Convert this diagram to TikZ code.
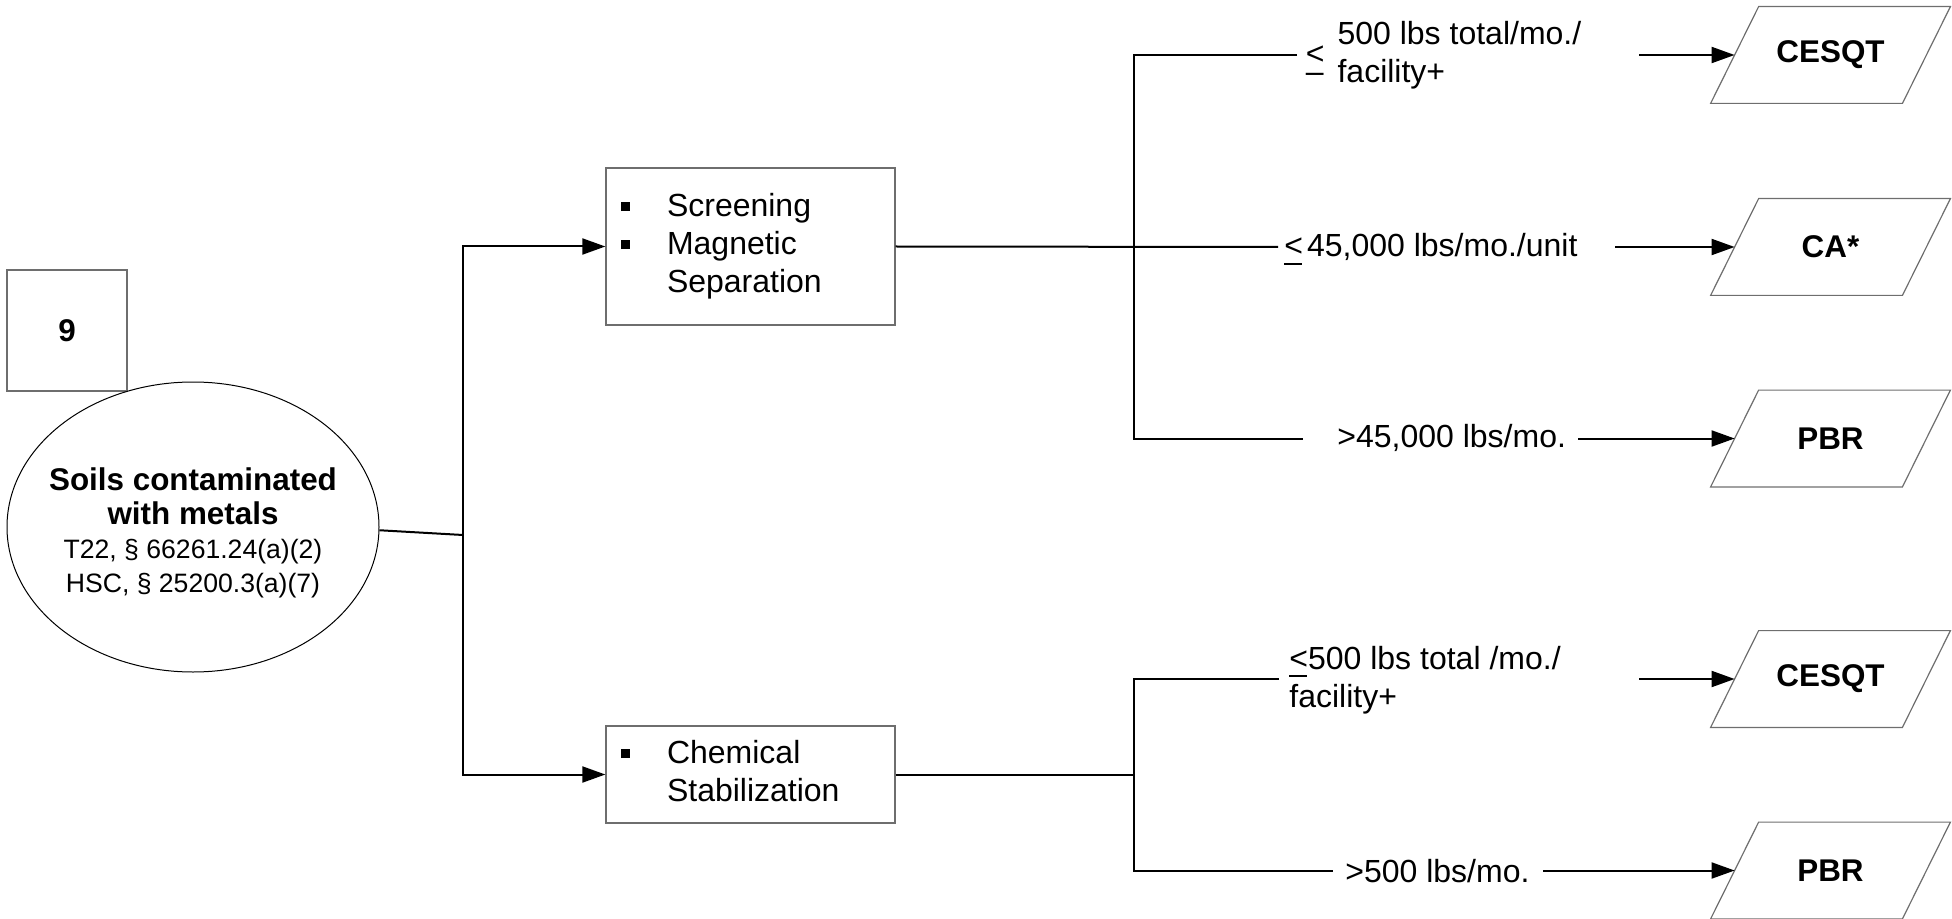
\documentclass[tikz,border=0pt]{standalone}
\usepackage{fontspec}
\setmainfont{Liberation Sans}
\usepackage{tikz}
\usetikzlibrary{shapes.geometric,arrows.meta}
\definecolor{cinza}{RGB}{110,110,110}
\newcommand{\fonte}{\fontsize{16}{19}\selectfont}
\newcommand{\fontenegrito}{\fontsize{15.7}{18}\selectfont\bfseries}
\newcommand{\fontepequena}{\fontsize{13.3}{17}\selectfont}
\newcommand{\marcador}{\rule[2.5pt]{4.5pt}{4.5pt}}
\newcommand{\lequnder}{\rlap{\rule[-4pt]{9pt}{1pt}}<}

\begin{document}
\begin{tikzpicture}[x=0.5pt,y=-0.5pt]
\tikzstyle{linha}=[line width=1pt]
\tikzstyle{seta}=[line width=1pt, -{Triangle[length=11.5pt,width=8pt]}]
\tikzstyle{numero}=[rectangle, draw=cinza, line width=0.65pt, minimum width=60pt, minimum height=60.5pt, font=\fontenegrito]
\tikzstyle{solo}=[ellipse, draw, line width=0.5pt, minimum width=186pt, minimum height=145pt, inner sep=0pt, font=\fontepequena]
\tikzstyle{tratamento}=[rectangle, draw=cinza, line width=0.65pt, text width=129.5pt, inner xsep=7.5pt, inner ysep=0pt, align=left, font=\fonte]
\tikzstyle{rotulo}=[anchor=base west, inner sep=0pt, font=\fonte]
\tikzstyle{saida}=[rectangle, minimum width=95.5pt, minimum height=48pt, inner sep=0pt, font=\fontenegrito]
\tikzstyle{borda}=[draw=cinza, line width=0.6pt]
\useasboundingbox (0,0) rectangle (1952,919);

% origem
\node[numero] (num) at (67,330.5) {9};
\node[solo] (solo) at (193,527) {\makebox[0pt]{\raisebox{-3.8pt}[\height][\depth]{\begin{tabular}{@{}c@{}}{\fontenegrito Soils contaminated}\\{\fontenegrito with metals}\\T22, § 66261.24(a)(2)\\HSC, § 25200.3(a)(7)\end{tabular}}}};

% tratamentos
\node[tratamento, minimum height=78.5pt] (trat1) at (750.5,246.5) {\begin{tabular}{@{}l@{\hspace{18.5pt}}l@{}}\marcador & Screening\\ \marcador & Magnetic\\ & Separation\end{tabular}};
\node[tratamento, minimum height=48.5pt] (trat2) at (750.5,774.5) {\begin{tabular}{@{}l@{\hspace{18.5pt}}l@{}}\marcador & Chemical\\ & Stabilization\end{tabular}};

% limites
\node[rotulo] (lim1) at (1305.5,45) {\begin{tabular}[t]{@{}l@{\hspace{6.5pt}}l@{}}\raisebox{-0.6em}[\height][0pt]{<} & 500 lbs total/mo./\\ – & facility+\end{tabular}};
\node[rotulo] (lim2) at (1284,257) {\lequnder\hspace{2pt}45,000 lbs/mo./unit};
\node[rotulo] (lim3) at (1337,447) {>45,000 lbs/mo.};
\node[rotulo] (lim4) at (1289,669) {\begin{tabular}[t]{@{}l@{}}\lequnder500 lbs total /mo./\\facility+\end{tabular}};
\node[rotulo] (lim5) at (1345,882) {>500 lbs/mo.};

% saidas (paralelogramos)
\node[saida] (s1) at (1830.5,55) {CESQT};
\node[saida] (s2) at (1830.5,247) {CA*};
\node[saida] (s3) at (1830.5,438.5) {PBR};
\node[saida] (s4) at (1830.5,679) {CESQT};
\node[saida] (s5) at (1830.5,870.5) {PBR};
\foreach \s in {s1,s2,s3,s4,s5}
  \draw[borda] ([xshift=12pt]\s.north west) -- ([xshift=12pt]\s.north east)
    -- ([xshift=-12pt]\s.south east) -- ([xshift=-12pt]\s.south west) -- cycle;

% ligacoes
\coordinate (jl) at (463,535);
\draw[linha] (solo.-1.5) -- (jl);
\draw[seta] (jl) |- (trat1.west);
\draw[seta] (jl) |- (trat2.west);

\coordinate (d1) at (1134,247);
\coordinate (f1) at (1297,55);
\coordinate (f2) at (1278,247);
\coordinate (f3) at (1303,438.5);
\draw[linha] (trat1.east) -- (f2);
\draw[linha] (f1) -| (d1) |- (f3);

\coordinate (d2) at (1134,774.5);
\coordinate (g1) at (1279,679);
\coordinate (g2) at (1333,870.5);
\draw[linha] (trat2.east) -- (d2);
\draw[linha] (g1) -| (d2) |- (g2);

\coordinate (i1) at (1639,55);
\coordinate (i2) at (1615,247);
\coordinate (i3) at (1578,438.5);
\coordinate (i4) at (1639,679);
\coordinate (i5) at (1543,870.5);
\draw[seta] (i1) -- (s1.west);
\draw[seta] (i2) -- (s2.west);
\draw[seta] (i3) -- (s3.west);
\draw[seta] (i4) -- (s4.west);
\draw[seta] (i5) -- (s5.west);
\end{tikzpicture}
\end{document}
